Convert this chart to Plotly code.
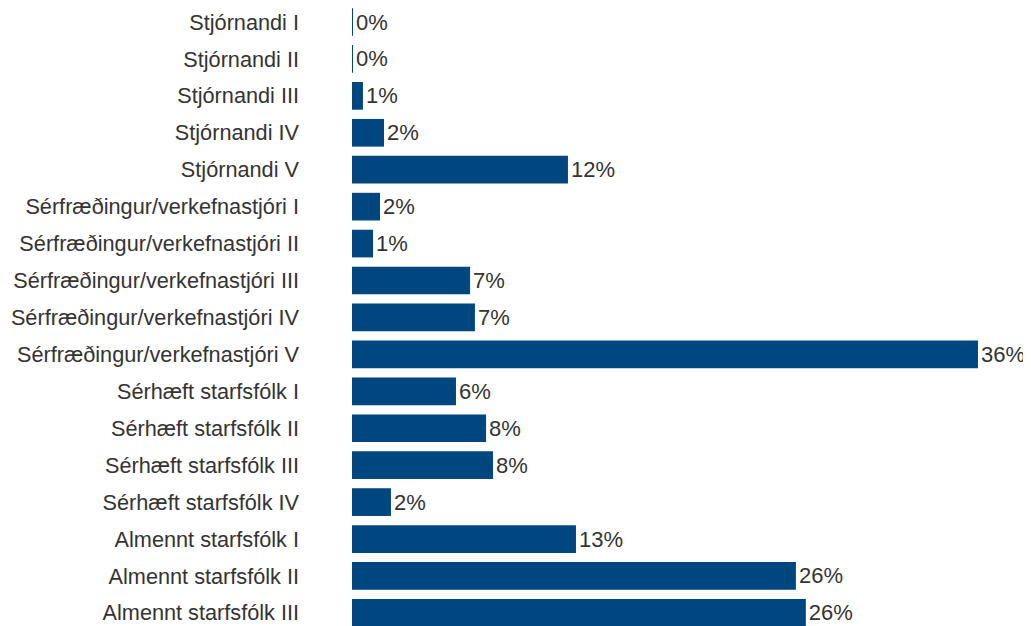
import plotly.graph_objects as go

categories = [
    "Stjórnandi I", "Stjórnandi II", "Stjórnandi III", "Stjórnandi IV", "Stjórnandi V",
    "Sérfræðingur/verkefnastjóri I", "Sérfræðingur/verkefnastjóri II",
    "Sérfræðingur/verkefnastjóri III", "Sérfræðingur/verkefnastjóri IV",
    "Sérfræðingur/verkefnastjóri V",
    "Sérhæft starfsfólk I", "Sérhæft starfsfólk II", "Sérhæft starfsfólk III",
    "Sérhæft starfsfólk IV",
    "Almennt starfsfólk I", "Almennt starfsfólk II", "Almennt starfsfólk III",
]
values = [0.05, 0.05, 0.63, 1.84, 12.42, 1.61, 1.21, 6.79, 7.07, 36.0,
          5.98, 7.71, 8.11, 2.24, 12.88, 25.53, 26.1]

FONT = "Liberation Sans, Arial, sans-serif"

fig = go.Figure(go.Bar(
    x=values, y=categories, orientation="h",
    marker=dict(color="#00467f", line=dict(width=0)),
    text=[f"{v:.0f}%" for v in values],
    textposition="outside",
    textfont=dict(family=FONT, size=22, color="#333333"),
    cliponaxis=False,
    hoverinfo="skip",
))

fig.update_layout(
    width=1023, height=618,
    margin=dict(l=344, r=0, t=0, b=0),
    paper_bgcolor="white", plot_bgcolor="white",
    bargap=0.25,
    showlegend=False,
    font=dict(family=FONT, size=22, color="#333333"),
)
fig.update_xaxes(range=[0, 39.05], visible=False, showgrid=False,
                 zeroline=False, automargin=False)
fig.update_yaxes(
    range=[16.355, -0.379], showgrid=False, zeroline=False, showline=False,
    ticks="", ticklabelstandoff=52, automargin=False,
    tickfont=dict(family=FONT, size=21.7, color="#333333"),
)

fig.write_html("out.html")
